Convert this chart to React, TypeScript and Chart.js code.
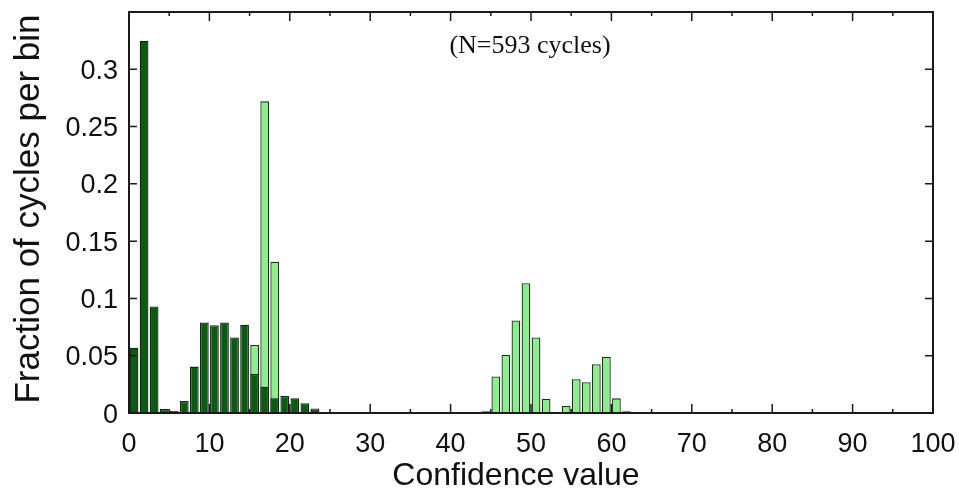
import React, { useEffect, useRef } from "react";
import { Chart, registerables } from "chart.js";

Chart.register(...registerables);

// Histogram bins of width 1.25 over the range 0..100 (80 bins)
const BIN_WIDTH = 1.25;

// Dark green series (fraction of cycles per bin)
const DARK_VALUES: (number | null)[] = [
  0.057, 0.325, 0.093, 0.0035, 0.002, 0.0105, 0.0405, 0.079, 0.0766, 0.079,
  0.066, 0.077, 0.034, 0.023, 0.0128, 0.0149, 0.0128, 0.0085, 0.003, null,
  null, null, null, null, null, null, null, null, null, null,
  null, null, null, null, null, null, null, null, null, null,
  null, null, null, null, null, null, null, null, null, null,
  null, null, null, null, null, null, null, null, null, null,
  null, null, null, null, null, null, null, null, null, null,
  null, null, null, null, null, null, null, null, null, null,
];

// Light green series
const LIGHT_VALUES: (number | null)[] = [
  null, null, null, null, null, null, null, null, null, null,
  null, null, 0.0594, 0.272, 0.132, null, null, null, 0.004, null,
  null, null, null, null, null, null, null, null, null, null,
  null, null, null, null, null, 0.0015, 0.0318, 0.0507, 0.0807, 0.1133,
  0.0659, 0.0125, null, 0.0061, 0.0294, 0.0268, 0.0425, 0.0492, 0.0128, 0.0015,
  null, null, null, null, null, null, null, null, null, null,
  null, null, null, null, null, null, null, null, null, null,
  null, null, null, null, null, null, null, null, null, null,
];

const BIN_CENTERS = DARK_VALUES.map((_, i) => BIN_WIDTH * (i + 0.5));

const X_TICKS = [0, 10, 20, 30, 40, 50, 60, 70, 80, 90, 100];
const X_MINOR_TICKS = [5, 15, 25, 35, 45, 55, 65, 75, 85, 95];
const Y_TICKS = [0, 0.05, 0.1, 0.15, 0.2, 0.25, 0.3];
const Y_TICK_LABELS = ["0", "0.05", "0.1", "0.15", "0.2", "0.25", "0.3"];
const X_MIN = 0;
const X_MAX = 100;
const Y_MIN = 0;
const Y_MAX = 0.35;

const NOTE_TEXT = "(N=593 cycles)";
const X_TITLE = "Confidence value";
const Y_TITLE = "Fraction of cycles per bin";

const DARK_FILL = "#0b5c10";
const DARK_EDGE = "#16221a";
const LIGHT_FILL = "#8ced8c";
const LIGHT_EDGE = "#222b22";
const AXIS_COLOR = "#1a1a1a";
const TEXT_COLOR = "#111";
const SANS = "'Liberation Sans', Arial, sans-serif";

function toPoints(values: (number | null)[]) {
  return BIN_CENTERS.map((x, i) => ({ x, y: values[i] })).filter(
    (p) => p.y !== null
  ) as { x: number; y: number }[];
}

export default function App() {
  const canvasRef = useRef<HTMLCanvasElement | null>(null);

  useEffect(() => {
    document.body.style.margin = "0";
    const canvas = canvasRef.current;
    if (!canvas) return;

    const framePlugin = {
      id: "frameAndText",
      afterDatasetsDraw(chart: any) {
        const { ctx, chartArea } = chart;
        const xs = chart.scales.x;
        const ys = chart.scales.y;
        const { left, right, top, bottom } = chartArea;
        ctx.save();
        // box
        ctx.strokeStyle = AXIS_COLOR;
        ctx.lineWidth = 2;
        ctx.strokeRect(left, top, right - left, bottom - top);
        // inward ticks
        ctx.lineWidth = 1.5;
        ctx.beginPath();
        const xTick = (v: number, len: number) => {
          const px = xs.getPixelForValue(v);
          ctx.moveTo(px, bottom);
          ctx.lineTo(px, bottom - len);
          ctx.moveTo(px, top);
          ctx.lineTo(px, top + len);
        };
        X_TICKS.forEach((v) => xTick(v, 9));
        X_MINOR_TICKS.forEach((v) => xTick(v, 4));
        Y_TICKS.forEach((v) => {
          const py = ys.getPixelForValue(v);
          ctx.moveTo(left, py);
          ctx.lineTo(left + 8, py);
          ctx.moveTo(right, py);
          ctx.lineTo(right - 8, py);
        });
        ctx.stroke();

        // tick labels
        ctx.fillStyle = TEXT_COLOR;
        ctx.font = `27px ${SANS}`;
        ctx.textBaseline = "alphabetic";
        ctx.textAlign = "center";
        X_TICKS.forEach((v) => {
          ctx.fillText(String(v), xs.getPixelForValue(v), 452);
        });
        ctx.textAlign = "right";
        Y_TICKS.forEach((v, i) => {
          ctx.fillText(Y_TICK_LABELS[i], left - 11, ys.getPixelForValue(v) + 9.5);
        });

        // axis titles
        ctx.font = `32px ${SANS}`;
        ctx.textAlign = "center";
        ctx.textBaseline = "middle";
        ctx.fillText(X_TITLE, 516, 476);

        ctx.save();
        ctx.translate(29, 209);
        ctx.rotate(-Math.PI / 2);
        ctx.font = `35px ${SANS}`;
        ctx.fillText(Y_TITLE, 0, 0);
        ctx.restore();

        // note
        ctx.font = "26px 'Liberation Serif', serif";
        ctx.textAlign = "center";
        ctx.textBaseline = "middle";
        ctx.fillText(NOTE_TEXT, 530, 46);
        ctx.restore();
      },
    };

    const chart = new Chart(canvas, {
      type: "bar",
      data: {
        datasets: [
          {
            label: "dark",
            data: toPoints(DARK_VALUES),
            backgroundColor: DARK_FILL,
            borderColor: DARK_EDGE,
            borderWidth: 1.3,
            barPercentage: 0.87,
            categoryPercentage: 1,
            grouped: false,
            order: 0,
          } as any,
          {
            label: "light",
            data: toPoints(LIGHT_VALUES),
            backgroundColor: LIGHT_FILL,
            borderColor: LIGHT_EDGE,
            borderWidth: 1.3,
            barPercentage: 0.87,
            categoryPercentage: 1,
            grouped: false,
            order: 1,
          } as any,
        ],
      },
      options: {
        responsive: false,
        animation: false,
        layout: { padding: { top: 12, right: 26, left: 0, bottom: 0 } },
        plugins: {
          legend: { display: false },
          tooltip: { enabled: false },
        },
        scales: {
          x: {
            type: "linear",
            min: X_MIN,
            max: X_MAX,
            offset: false,
            grid: { display: false },
            border: { display: false },
            ticks: { display: false },
            afterFit: (s: any) => {
              s.height = 82;
            },
          },
          y: {
            type: "linear",
            min: Y_MIN,
            max: Y_MAX,
            grid: { display: false },
            border: { display: false },
            ticks: { display: false },
            afterFit: (s: any) => {
              s.width = 129;
            },
          },
        },
      },
      plugins: [framePlugin],
    });

    return () => chart.destroy();
  }, []);

  return (
    <div style={{ width: 959, height: 495 }}>
      <canvas ref={canvasRef} width={959} height={495} />
    </div>
  );
}
